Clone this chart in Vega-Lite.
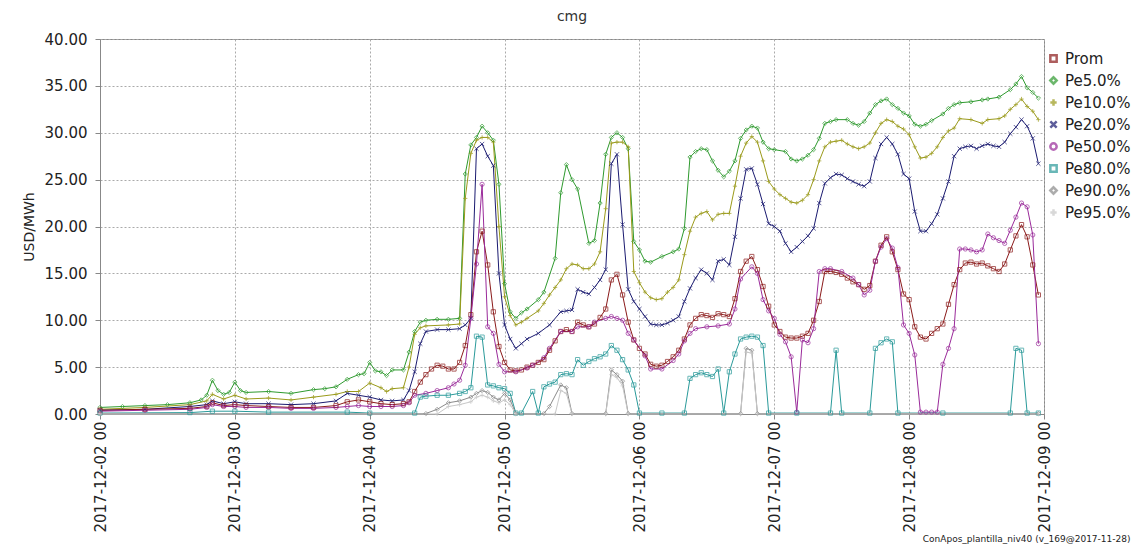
{
  "$schema": "https://vega.github.io/schema/vega-lite/v6.json",
  "width": 1143,
  "height": 548,
  "autosize": {"type": "fit", "contains": "padding"},
  "padding": {"left": 22, "right": 91, "top": 10, "bottom": 4},
  "background": "white",
  "title": {"text": "cmg", "fontSize": 14, "fontWeight": "normal", "color": "#333", "offset": 8},
  "config": {
    "font": "DejaVu Sans",
    "view": {"stroke": "#888"},
    "axis": {"gridDash": [2, 2], "gridColor": "#aaa", "labelColor": "#222", "labelFontSize": 15, "domainColor": "#888", "tickColor": "#888"}
  },
  "datasets": {
    "series": [
      {"s":"Pe5","h":0,"v":0.7},{"s":"Pe5","h":4,"v":0.8},{"s":"Pe5","h":8,"v":0.9},{"s":"Pe5","h":12,"v":1.0},{"s":"Pe5","h":16,"v":1.2},{"s":"Pe5","h":18,"v":1.5},{"s":"Pe5","h":19,"v":2.0},{"s":"Pe5","h":20,"v":3.6},{"s":"Pe5","h":21,"v":2.5},{"s":"Pe5","h":22,"v":2.1},{"s":"Pe5","h":23,"v":2.3},{"s":"Pe5","h":24,"v":3.4},{"s":"Pe5","h":25,"v":2.5},{"s":"Pe5","h":26,"v":2.3},{"s":"Pe5","h":30,"v":2.4},{"s":"Pe5","h":34,"v":2.2},{"s":"Pe5","h":38,"v":2.6},{"s":"Pe5","h":40,"v":2.7},{"s":"Pe5","h":42,"v":2.9},{"s":"Pe5","h":44,"v":3.7},{"s":"Pe5","h":46,"v":4.2},{"s":"Pe5","h":47,"v":4.3},{"s":"Pe5","h":48,"v":5.5},{"s":"Pe5","h":49,"v":4.6},{"s":"Pe5","h":50,"v":4.5},{"s":"Pe5","h":51,"v":4.1},{"s":"Pe5","h":52,"v":4.7},{"s":"Pe5","h":54,"v":4.7},{"s":"Pe5","h":55,"v":6.6},{"s":"Pe5","h":56,"v":8.8},{"s":"Pe5","h":57,"v":9.8},{"s":"Pe5","h":58,"v":10.0},{"s":"Pe5","h":60,"v":10.1},{"s":"Pe5","h":62,"v":10.1},{"s":"Pe5","h":64,"v":10.2},{"s":"Pe5","h":65,"v":25.6},{"s":"Pe5","h":66,"v":28.7},{"s":"Pe5","h":67,"v":29.5},{"s":"Pe5","h":68,"v":30.7},{"s":"Pe5","h":69,"v":30.0},{"s":"Pe5","h":70,"v":29.2},{"s":"Pe5","h":71,"v":24.5},{"s":"Pe5","h":72,"v":13.9},{"s":"Pe5","h":73,"v":10.9},{"s":"Pe5","h":74,"v":10.2},{"s":"Pe5","h":75,"v":10.8},{"s":"Pe5","h":76,"v":11.2},{"s":"Pe5","h":78,"v":12.2},{"s":"Pe5","h":79,"v":13.0},{"s":"Pe5","h":81,"v":16.6},{"s":"Pe5","h":82,"v":23.6},{"s":"Pe5","h":83,"v":26.6},{"s":"Pe5","h":84,"v":25},{"s":"Pe5","h":85,"v":24},{"s":"Pe5","h":87,"v":18.2},{"s":"Pe5","h":88,"v":18.5},{"s":"Pe5","h":89,"v":22.5},{"s":"Pe5","h":90,"v":27.7},{"s":"Pe5","h":91,"v":29.5},{"s":"Pe5","h":92,"v":30},{"s":"Pe5","h":93,"v":29.5},{"s":"Pe5","h":94,"v":28.3},{"s":"Pe5","h":95,"v":18.4},{"s":"Pe5","h":96,"v":17.5},{"s":"Pe5","h":97,"v":16.3},{"s":"Pe5","h":98,"v":16.2},{"s":"Pe5","h":100,"v":16.8},{"s":"Pe5","h":102,"v":17.3},{"s":"Pe5","h":103,"v":17.6},{"s":"Pe5","h":104,"v":19.8},{"s":"Pe5","h":105,"v":27.4},{"s":"Pe5","h":106,"v":28},{"s":"Pe5","h":107,"v":28.3},{"s":"Pe5","h":108,"v":28.2},{"s":"Pe5","h":109,"v":27},{"s":"Pe5","h":110,"v":26},{"s":"Pe5","h":111,"v":25.3},{"s":"Pe5","h":112,"v":25.9},{"s":"Pe5","h":113,"v":27},{"s":"Pe5","h":114,"v":29.4},{"s":"Pe5","h":115,"v":30.3},{"s":"Pe5","h":116,"v":30.7},{"s":"Pe5","h":117,"v":30.5},{"s":"Pe5","h":118,"v":29},{"s":"Pe5","h":119,"v":28.3},{"s":"Pe5","h":120,"v":28.2},{"s":"Pe5","h":122,"v":28},{"s":"Pe5","h":123,"v":27.2},{"s":"Pe5","h":124,"v":27},{"s":"Pe5","h":125,"v":27.2},{"s":"Pe5","h":126,"v":27.6},{"s":"Pe5","h":127,"v":28.2},{"s":"Pe5","h":128,"v":29.4},{"s":"Pe5","h":129,"v":31},{"s":"Pe5","h":130,"v":31.2},{"s":"Pe5","h":131,"v":31.4},{"s":"Pe5","h":133,"v":31.4},{"s":"Pe5","h":134,"v":31},{"s":"Pe5","h":135,"v":30.8},{"s":"Pe5","h":136,"v":31.2},{"s":"Pe5","h":137,"v":32.1},{"s":"Pe5","h":138,"v":33},{"s":"Pe5","h":139,"v":33.4},{"s":"Pe5","h":140,"v":33.6},{"s":"Pe5","h":141,"v":33},{"s":"Pe5","h":142,"v":32.6},{"s":"Pe5","h":143,"v":32.1},{"s":"Pe5","h":144,"v":31.8},{"s":"Pe5","h":145,"v":30.9},{"s":"Pe5","h":146,"v":30.7},{"s":"Pe5","h":147,"v":30.9},{"s":"Pe5","h":148,"v":31.3},{"s":"Pe5","h":150,"v":32},{"s":"Pe5","h":151,"v":32.6},{"s":"Pe5","h":152,"v":33},{"s":"Pe5","h":153,"v":33.2},{"s":"Pe5","h":155,"v":33.3},{"s":"Pe5","h":157,"v":33.5},{"s":"Pe5","h":158,"v":33.6},{"s":"Pe5","h":160,"v":33.8},{"s":"Pe5","h":162,"v":34.6},{"s":"Pe5","h":163,"v":35.2},{"s":"Pe5","h":164,"v":36},{"s":"Pe5","h":165,"v":34.8},{"s":"Pe5","h":166,"v":34.3},{"s":"Pe5","h":167,"v":33.7},

      {"s":"Pe10","h":0,"v":0.5},{"s":"Pe10","h":8,"v":0.7},{"s":"Pe10","h":16,"v":1.0},{"s":"Pe10","h":19,"v":1.4},{"s":"Pe10","h":20,"v":2.1},{"s":"Pe10","h":22,"v":1.6},{"s":"Pe10","h":24,"v":2.0},{"s":"Pe10","h":26,"v":1.6},{"s":"Pe10","h":30,"v":1.7},{"s":"Pe10","h":34,"v":1.5},{"s":"Pe10","h":38,"v":1.8},{"s":"Pe10","h":42,"v":2.1},{"s":"Pe10","h":44,"v":2.4},{"s":"Pe10","h":46,"v":2.4},{"s":"Pe10","h":48,"v":3.3},{"s":"Pe10","h":50,"v":2.8},{"s":"Pe10","h":51,"v":2.4},{"s":"Pe10","h":52,"v":2.7},{"s":"Pe10","h":54,"v":2.8},{"s":"Pe10","h":55,"v":5.0},{"s":"Pe10","h":56,"v":8.5},{"s":"Pe10","h":57,"v":9.2},{"s":"Pe10","h":58,"v":9.4},{"s":"Pe10","h":62,"v":9.5},{"s":"Pe10","h":64,"v":9.6},{"s":"Pe10","h":65,"v":23},{"s":"Pe10","h":66,"v":27.8},{"s":"Pe10","h":67,"v":29.2},{"s":"Pe10","h":68,"v":29.5},{"s":"Pe10","h":69,"v":29.5},{"s":"Pe10","h":70,"v":29},{"s":"Pe10","h":71,"v":20},{"s":"Pe10","h":72,"v":12.5},{"s":"Pe10","h":73,"v":10.5},{"s":"Pe10","h":74,"v":9.5},{"s":"Pe10","h":75,"v":9.8},{"s":"Pe10","h":76,"v":10.2},{"s":"Pe10","h":78,"v":11},{"s":"Pe10","h":79,"v":11.8},{"s":"Pe10","h":80,"v":12.7},{"s":"Pe10","h":81,"v":13.5},{"s":"Pe10","h":82,"v":14.3},{"s":"Pe10","h":83,"v":15.5},{"s":"Pe10","h":84,"v":16},{"s":"Pe10","h":85,"v":15.9},{"s":"Pe10","h":86,"v":15.5},{"s":"Pe10","h":87,"v":15.5},{"s":"Pe10","h":88,"v":16},{"s":"Pe10","h":89,"v":17.3},{"s":"Pe10","h":90,"v":21.9},{"s":"Pe10","h":91,"v":28.9},{"s":"Pe10","h":92,"v":29},{"s":"Pe10","h":93,"v":29},{"s":"Pe10","h":94,"v":28.5},{"s":"Pe10","h":95,"v":15.2},{"s":"Pe10","h":96,"v":14},{"s":"Pe10","h":97,"v":13},{"s":"Pe10","h":98,"v":12.4},{"s":"Pe10","h":99,"v":12.2},{"s":"Pe10","h":100,"v":12.3},{"s":"Pe10","h":101,"v":13},{"s":"Pe10","h":102,"v":13.5},{"s":"Pe10","h":103,"v":14.3},{"s":"Pe10","h":104,"v":17},{"s":"Pe10","h":105,"v":19.5},{"s":"Pe10","h":106,"v":21},{"s":"Pe10","h":107,"v":21.4},{"s":"Pe10","h":108,"v":21.6},{"s":"Pe10","h":109,"v":20.7},{"s":"Pe10","h":110,"v":21.3},{"s":"Pe10","h":111,"v":21.4},{"s":"Pe10","h":112,"v":21.4},{"s":"Pe10","h":113,"v":24.3},{"s":"Pe10","h":114,"v":27.5},{"s":"Pe10","h":115,"v":28.9},{"s":"Pe10","h":116,"v":29.6},{"s":"Pe10","h":117,"v":29},{"s":"Pe10","h":118,"v":27},{"s":"Pe10","h":119,"v":24.8},{"s":"Pe10","h":120,"v":24},{"s":"Pe10","h":121,"v":23.4},{"s":"Pe10","h":122,"v":23},{"s":"Pe10","h":123,"v":22.6},{"s":"Pe10","h":124,"v":22.5},{"s":"Pe10","h":125,"v":22.8},{"s":"Pe10","h":126,"v":23.4},{"s":"Pe10","h":127,"v":25},{"s":"Pe10","h":128,"v":27},{"s":"Pe10","h":129,"v":28.5},{"s":"Pe10","h":130,"v":29},{"s":"Pe10","h":131,"v":29.1},{"s":"Pe10","h":132,"v":29.2},{"s":"Pe10","h":133,"v":28.8},{"s":"Pe10","h":134,"v":28.5},{"s":"Pe10","h":135,"v":28.3},{"s":"Pe10","h":136,"v":28.5},{"s":"Pe10","h":137,"v":28.9},{"s":"Pe10","h":138,"v":30},{"s":"Pe10","h":139,"v":31},{"s":"Pe10","h":140,"v":31.4},{"s":"Pe10","h":141,"v":31.2},{"s":"Pe10","h":142,"v":30.7},{"s":"Pe10","h":143,"v":30.4},{"s":"Pe10","h":144,"v":29.8},{"s":"Pe10","h":145,"v":28.5},{"s":"Pe10","h":146,"v":27.3},{"s":"Pe10","h":147,"v":27.4},{"s":"Pe10","h":148,"v":27.8},{"s":"Pe10","h":149,"v":28.5},{"s":"Pe10","h":150,"v":29.5},{"s":"Pe10","h":151,"v":30.2},{"s":"Pe10","h":152,"v":30.5},{"s":"Pe10","h":153,"v":31.5},{"s":"Pe10","h":155,"v":31.4},{"s":"Pe10","h":157,"v":31},{"s":"Pe10","h":158,"v":31.4},{"s":"Pe10","h":160,"v":31.5},{"s":"Pe10","h":161,"v":31.8},{"s":"Pe10","h":162,"v":32.5},{"s":"Pe10","h":163,"v":33},{"s":"Pe10","h":164,"v":33.6},{"s":"Pe10","h":165,"v":32.8},{"s":"Pe10","h":166,"v":32.3},{"s":"Pe10","h":167,"v":31.4},

      {"s":"Pe20","h":0,"v":0.4},{"s":"Pe20","h":8,"v":0.5},{"s":"Pe20","h":16,"v":0.8},{"s":"Pe20","h":19,"v":1.0},{"s":"Pe20","h":20,"v":1.4},{"s":"Pe20","h":22,"v":1.1},{"s":"Pe20","h":24,"v":1.3},{"s":"Pe20","h":26,"v":1.1},{"s":"Pe20","h":30,"v":1.1},{"s":"Pe20","h":34,"v":1.0},{"s":"Pe20","h":38,"v":1.1},{"s":"Pe20","h":42,"v":1.4},{"s":"Pe20","h":44,"v":2.2},{"s":"Pe20","h":46,"v":2.0},{"s":"Pe20","h":48,"v":1.8},{"s":"Pe20","h":50,"v":1.5},{"s":"Pe20","h":52,"v":1.4},{"s":"Pe20","h":54,"v":1.5},{"s":"Pe20","h":55,"v":2.5},{"s":"Pe20","h":56,"v":4.5},{"s":"Pe20","h":57,"v":7.5},{"s":"Pe20","h":58,"v":8.8},{"s":"Pe20","h":60,"v":9.0},{"s":"Pe20","h":62,"v":9.0},{"s":"Pe20","h":64,"v":9.1},{"s":"Pe20","h":65,"v":9.5},{"s":"Pe20","h":66,"v":10.2},{"s":"Pe20","h":67,"v":28.3},{"s":"Pe20","h":68,"v":28.8},{"s":"Pe20","h":69,"v":27.5},{"s":"Pe20","h":70,"v":26.5},{"s":"Pe20","h":71,"v":15},{"s":"Pe20","h":72,"v":9.5},{"s":"Pe20","h":73,"v":8},{"s":"Pe20","h":74,"v":7},{"s":"Pe20","h":75,"v":7.5},{"s":"Pe20","h":76,"v":8},{"s":"Pe20","h":78,"v":8.6},{"s":"Pe20","h":80,"v":9.5},{"s":"Pe20","h":82,"v":10.9},{"s":"Pe20","h":83,"v":11},{"s":"Pe20","h":84,"v":11.1},{"s":"Pe20","h":85,"v":13.3},{"s":"Pe20","h":86,"v":13},{"s":"Pe20","h":87,"v":12.8},{"s":"Pe20","h":88,"v":13.5},{"s":"Pe20","h":89,"v":14.3},{"s":"Pe20","h":90,"v":15.4},{"s":"Pe20","h":91,"v":26.7},{"s":"Pe20","h":92,"v":27.7},{"s":"Pe20","h":93,"v":20.2},{"s":"Pe20","h":94,"v":13.3},{"s":"Pe20","h":95,"v":12},{"s":"Pe20","h":96,"v":11.2},{"s":"Pe20","h":97,"v":10.4},{"s":"Pe20","h":98,"v":9.6},{"s":"Pe20","h":99,"v":9.5},{"s":"Pe20","h":100,"v":9.5},{"s":"Pe20","h":101,"v":9.7},{"s":"Pe20","h":102,"v":10},{"s":"Pe20","h":103,"v":10.4},{"s":"Pe20","h":104,"v":12},{"s":"Pe20","h":105,"v":13.4},{"s":"Pe20","h":106,"v":14.5},{"s":"Pe20","h":107,"v":15.4},{"s":"Pe20","h":108,"v":15},{"s":"Pe20","h":109,"v":14.3},{"s":"Pe20","h":110,"v":16.3},{"s":"Pe20","h":111,"v":16.5},{"s":"Pe20","h":112,"v":15.9},{"s":"Pe20","h":113,"v":18.9},{"s":"Pe20","h":114,"v":23},{"s":"Pe20","h":115,"v":26.1},{"s":"Pe20","h":116,"v":26.2},{"s":"Pe20","h":117,"v":24.5},{"s":"Pe20","h":118,"v":22.4},{"s":"Pe20","h":119,"v":20.3},{"s":"Pe20","h":120,"v":20},{"s":"Pe20","h":121,"v":19.5},{"s":"Pe20","h":122,"v":18.2},{"s":"Pe20","h":123,"v":17.3},{"s":"Pe20","h":124,"v":17.8},{"s":"Pe20","h":125,"v":18.4},{"s":"Pe20","h":126,"v":19},{"s":"Pe20","h":127,"v":19.8},{"s":"Pe20","h":128,"v":22.5},{"s":"Pe20","h":129,"v":24.6},{"s":"Pe20","h":130,"v":25.2},{"s":"Pe20","h":131,"v":25.6},{"s":"Pe20","h":132,"v":25.5},{"s":"Pe20","h":133,"v":25.1},{"s":"Pe20","h":134,"v":24.8},{"s":"Pe20","h":135,"v":24.5},{"s":"Pe20","h":136,"v":24.3},{"s":"Pe20","h":137,"v":24.8},{"s":"Pe20","h":138,"v":27.3},{"s":"Pe20","h":139,"v":28.8},{"s":"Pe20","h":140,"v":29.5},{"s":"Pe20","h":141,"v":28.8},{"s":"Pe20","h":142,"v":27.7},{"s":"Pe20","h":143,"v":25.6},{"s":"Pe20","h":144,"v":25.1},{"s":"Pe20","h":145,"v":21.6},{"s":"Pe20","h":146,"v":19.5},{"s":"Pe20","h":147,"v":19.5},{"s":"Pe20","h":148,"v":20.3},{"s":"Pe20","h":149,"v":21.3},{"s":"Pe20","h":150,"v":23},{"s":"Pe20","h":151,"v":24.8},{"s":"Pe20","h":152,"v":27.5},{"s":"Pe20","h":153,"v":28.3},{"s":"Pe20","h":154,"v":28.5},{"s":"Pe20","h":155,"v":28.6},{"s":"Pe20","h":156,"v":28.3},{"s":"Pe20","h":157,"v":28.6},{"s":"Pe20","h":158,"v":28.8},{"s":"Pe20","h":159,"v":28.6},{"s":"Pe20","h":160,"v":28.5},{"s":"Pe20","h":161,"v":29},{"s":"Pe20","h":162,"v":29.9},{"s":"Pe20","h":163,"v":30.6},{"s":"Pe20","h":164,"v":31.4},{"s":"Pe20","h":165,"v":30.7},{"s":"Pe20","h":166,"v":29.4},{"s":"Pe20","h":167,"v":26.7},

      {"s":"Prom","h":0,"v":0.4},{"s":"Prom","h":8,"v":0.5},{"s":"Prom","h":16,"v":0.6},{"s":"Prom","h":19,"v":0.8},{"s":"Prom","h":20,"v":1.2},{"s":"Prom","h":22,"v":0.9},{"s":"Prom","h":24,"v":1.0},{"s":"Prom","h":26,"v":0.9},{"s":"Prom","h":30,"v":0.8},{"s":"Prom","h":34,"v":0.7},{"s":"Prom","h":38,"v":0.7},{"s":"Prom","h":42,"v":0.9},{"s":"Prom","h":44,"v":1.3},{"s":"Prom","h":46,"v":1.5},{"s":"Prom","h":48,"v":1.3},{"s":"Prom","h":50,"v":1.1},{"s":"Prom","h":52,"v":1.0},{"s":"Prom","h":54,"v":1.1},{"s":"Prom","h":55,"v":1.3},{"s":"Prom","h":56,"v":2.4},{"s":"Prom","h":57,"v":3.4},{"s":"Prom","h":58,"v":4.2},{"s":"Prom","h":59,"v":4.8},{"s":"Prom","h":60,"v":5.2},{"s":"Prom","h":61,"v":5.1},{"s":"Prom","h":62,"v":4.8},{"s":"Prom","h":63,"v":4.8},{"s":"Prom","h":64,"v":5.5},{"s":"Prom","h":65,"v":7.3},{"s":"Prom","h":66,"v":10.6},{"s":"Prom","h":67,"v":17.3},{"s":"Prom","h":68,"v":19.5},{"s":"Prom","h":69,"v":15.9},{"s":"Prom","h":70,"v":10.9},{"s":"Prom","h":71,"v":7.2},{"s":"Prom","h":72,"v":5.5},{"s":"Prom","h":73,"v":4.7},{"s":"Prom","h":74,"v":4.6},{"s":"Prom","h":75,"v":4.7},{"s":"Prom","h":76,"v":5.0},{"s":"Prom","h":77,"v":5.2},{"s":"Prom","h":78,"v":5.5},{"s":"Prom","h":79,"v":5.8},{"s":"Prom","h":80,"v":6.8},{"s":"Prom","h":81,"v":7.8},{"s":"Prom","h":82,"v":8.8},{"s":"Prom","h":83,"v":9},{"s":"Prom","h":84,"v":8.8},{"s":"Prom","h":85,"v":9.8},{"s":"Prom","h":86,"v":9.5},{"s":"Prom","h":87,"v":9.3},{"s":"Prom","h":88,"v":9.6},{"s":"Prom","h":89,"v":10.3},{"s":"Prom","h":90,"v":11.2},{"s":"Prom","h":91,"v":14.3},{"s":"Prom","h":92,"v":14.9},{"s":"Prom","h":93,"v":12.7},{"s":"Prom","h":94,"v":9.8},{"s":"Prom","h":95,"v":7.9},{"s":"Prom","h":96,"v":7},{"s":"Prom","h":97,"v":6.4},{"s":"Prom","h":98,"v":5.3},{"s":"Prom","h":99,"v":5.1},{"s":"Prom","h":100,"v":5.2},{"s":"Prom","h":101,"v":5.6},{"s":"Prom","h":102,"v":6.1},{"s":"Prom","h":103,"v":6.8},{"s":"Prom","h":104,"v":8},{"s":"Prom","h":105,"v":9.5},{"s":"Prom","h":106,"v":10.2},{"s":"Prom","h":107,"v":10.6},{"s":"Prom","h":108,"v":10.5},{"s":"Prom","h":109,"v":10.3},{"s":"Prom","h":110,"v":10.7},{"s":"Prom","h":111,"v":10.6},{"s":"Prom","h":112,"v":10.4},{"s":"Prom","h":113,"v":12.3},{"s":"Prom","h":114,"v":15.2},{"s":"Prom","h":115,"v":16.3},{"s":"Prom","h":116,"v":16.8},{"s":"Prom","h":117,"v":15.4},{"s":"Prom","h":118,"v":13.6},{"s":"Prom","h":119,"v":11.5},{"s":"Prom","h":120,"v":9.5},{"s":"Prom","h":121,"v":8.8},{"s":"Prom","h":122,"v":8.2},{"s":"Prom","h":123,"v":8.1},{"s":"Prom","h":124,"v":8.1},{"s":"Prom","h":125,"v":8.3},{"s":"Prom","h":126,"v":8.6},{"s":"Prom","h":127,"v":10},{"s":"Prom","h":128,"v":12},{"s":"Prom","h":129,"v":15.2},{"s":"Prom","h":130,"v":15.2},{"s":"Prom","h":131,"v":15.1},{"s":"Prom","h":132,"v":14.9},{"s":"Prom","h":133,"v":14.5},{"s":"Prom","h":134,"v":14.1},{"s":"Prom","h":135,"v":13.8},{"s":"Prom","h":136,"v":13.3},{"s":"Prom","h":137,"v":13.7},{"s":"Prom","h":138,"v":16.3},{"s":"Prom","h":139,"v":18},{"s":"Prom","h":140,"v":18.9},{"s":"Prom","h":141,"v":17.3},{"s":"Prom","h":142,"v":15.4},{"s":"Prom","h":143,"v":12.8},{"s":"Prom","h":144,"v":12.2},{"s":"Prom","h":145,"v":9.3},{"s":"Prom","h":146,"v":8.2},{"s":"Prom","h":147,"v":8},{"s":"Prom","h":148,"v":8.6},{"s":"Prom","h":149,"v":9.1},{"s":"Prom","h":150,"v":9.6},{"s":"Prom","h":151,"v":11.7},{"s":"Prom","h":152,"v":13.8},{"s":"Prom","h":153,"v":15.4},{"s":"Prom","h":154,"v":16.1},{"s":"Prom","h":155,"v":16.2},{"s":"Prom","h":156,"v":16},{"s":"Prom","h":157,"v":16.1},{"s":"Prom","h":158,"v":15.8},{"s":"Prom","h":159,"v":15.5},{"s":"Prom","h":160,"v":15.2},{"s":"Prom","h":161,"v":16},{"s":"Prom","h":162,"v":17.5},{"s":"Prom","h":163,"v":19},{"s":"Prom","h":164,"v":20.2},{"s":"Prom","h":165,"v":18.9},{"s":"Prom","h":166,"v":15.9},{"s":"Prom","h":167,"v":12.7},

      {"s":"Pe50","h":0,"v":0.3},{"s":"Pe50","h":8,"v":0.4},{"s":"Pe50","h":16,"v":0.5},{"s":"Pe50","h":19,"v":0.7},{"s":"Pe50","h":20,"v":1.0},{"s":"Pe50","h":22,"v":0.8},{"s":"Pe50","h":24,"v":0.8},{"s":"Pe50","h":26,"v":0.7},{"s":"Pe50","h":30,"v":0.7},{"s":"Pe50","h":34,"v":0.6},{"s":"Pe50","h":38,"v":0.6},{"s":"Pe50","h":42,"v":0.7},{"s":"Pe50","h":44,"v":0.8},{"s":"Pe50","h":46,"v":0.9},{"s":"Pe50","h":48,"v":0.8},{"s":"Pe50","h":50,"v":0.8},{"s":"Pe50","h":52,"v":0.8},{"s":"Pe50","h":54,"v":0.9},{"s":"Pe50","h":55,"v":1.2},{"s":"Pe50","h":56,"v":2.0},{"s":"Pe50","h":58,"v":2.2},{"s":"Pe50","h":60,"v":2.5},{"s":"Pe50","h":62,"v":2.8},{"s":"Pe50","h":63,"v":3.2},{"s":"Pe50","h":64,"v":3.6},{"s":"Pe50","h":65,"v":5.2},{"s":"Pe50","h":66,"v":10.2},{"s":"Pe50","h":67,"v":16},{"s":"Pe50","h":68,"v":24.5},{"s":"Pe50","h":69,"v":9.3},{"s":"Pe50","h":70,"v":8.6},{"s":"Pe50","h":71,"v":5.3},{"s":"Pe50","h":72,"v":4.5},{"s":"Pe50","h":74,"v":4.5},{"s":"Pe50","h":76,"v":4.9},{"s":"Pe50","h":77,"v":5.2},{"s":"Pe50","h":79,"v":6},{"s":"Pe50","h":80,"v":7},{"s":"Pe50","h":82,"v":8.8},{"s":"Pe50","h":84,"v":8.8},{"s":"Pe50","h":85,"v":9.3},{"s":"Pe50","h":87,"v":9.3},{"s":"Pe50","h":88,"v":9.8},{"s":"Pe50","h":90,"v":10.2},{"s":"Pe50","h":91,"v":10.4},{"s":"Pe50","h":92,"v":10.2},{"s":"Pe50","h":93,"v":10},{"s":"Pe50","h":94,"v":8.6},{"s":"Pe50","h":95,"v":7.9},{"s":"Pe50","h":97,"v":6.2},{"s":"Pe50","h":98,"v":4.8},{"s":"Pe50","h":100,"v":4.8},{"s":"Pe50","h":102,"v":5.7},{"s":"Pe50","h":103,"v":6.4},{"s":"Pe50","h":104,"v":7.8},{"s":"Pe50","h":105,"v":8.6},{"s":"Pe50","h":106,"v":9.1},{"s":"Pe50","h":108,"v":9.3},{"s":"Pe50","h":110,"v":9.4},{"s":"Pe50","h":112,"v":9.6},{"s":"Pe50","h":113,"v":11.2},{"s":"Pe50","h":114,"v":14.4},{"s":"Pe50","h":116,"v":15.7},{"s":"Pe50","h":117,"v":15},{"s":"Pe50","h":118,"v":12.2},{"s":"Pe50","h":119,"v":11},{"s":"Pe50","h":120,"v":10.2},{"s":"Pe50","h":121,"v":8.5},{"s":"Pe50","h":122,"v":7.7},{"s":"Pe50","h":123,"v":6.1},{"s":"Pe50","h":124,"v":0.2},{"s":"Pe50","h":125,"v":7.9},{"s":"Pe50","h":126,"v":7.6},{"s":"Pe50","h":127,"v":9.1},{"s":"Pe50","h":128,"v":15.2},{"s":"Pe50","h":129,"v":15.5},{"s":"Pe50","h":130,"v":15.5},{"s":"Pe50","h":132,"v":15.2},{"s":"Pe50","h":134,"v":14.5},{"s":"Pe50","h":135,"v":13.8},{"s":"Pe50","h":136,"v":12.7},{"s":"Pe50","h":137,"v":13.2},{"s":"Pe50","h":138,"v":16.3},{"s":"Pe50","h":139,"v":17.8},{"s":"Pe50","h":140,"v":18.7},{"s":"Pe50","h":141,"v":17.7},{"s":"Pe50","h":142,"v":15.6},{"s":"Pe50","h":143,"v":9.5},{"s":"Pe50","h":144,"v":8.6},{"s":"Pe50","h":145,"v":6.3},{"s":"Pe50","h":146,"v":0.2},{"s":"Pe50","h":147,"v":0.2},{"s":"Pe50","h":148,"v":0.2},{"s":"Pe50","h":149,"v":0.2},{"s":"Pe50","h":150,"v":5.3},{"s":"Pe50","h":151,"v":7},{"s":"Pe50","h":152,"v":9.1},{"s":"Pe50","h":153,"v":17.6},{"s":"Pe50","h":154,"v":17.6},{"s":"Pe50","h":155,"v":17.5},{"s":"Pe50","h":156,"v":17.3},{"s":"Pe50","h":157,"v":17.5},{"s":"Pe50","h":158,"v":19.2},{"s":"Pe50","h":159,"v":18.8},{"s":"Pe50","h":160,"v":18.5},{"s":"Pe50","h":161,"v":18.2},{"s":"Pe50","h":162,"v":19.6},{"s":"Pe50","h":163,"v":21},{"s":"Pe50","h":164,"v":22.5},{"s":"Pe50","h":165,"v":22.1},{"s":"Pe50","h":166,"v":19.1},{"s":"Pe50","h":167,"v":7.5},

      {"s":"Pe80","h":0,"v":0.1},{"s":"Pe80","h":16,"v":0.15},{"s":"Pe80","h":20,"v":0.3},{"s":"Pe80","h":24,"v":0.3},{"s":"Pe80","h":30,"v":0.2},{"s":"Pe80","h":44,"v":0.2},{"s":"Pe80","h":48,"v":0.1},{"s":"Pe80","h":56,"v":0.1},{"s":"Pe80","h":57,"v":1.8},{"s":"Pe80","h":58,"v":1.9},{"s":"Pe80","h":60,"v":2.0},{"s":"Pe80","h":62,"v":2.0},{"s":"Pe80","h":64,"v":2.2},{"s":"Pe80","h":65,"v":2.4},{"s":"Pe80","h":66,"v":2.8},{"s":"Pe80","h":67,"v":8.3},{"s":"Pe80","h":68,"v":8.2},{"s":"Pe80","h":69,"v":3.1},{"s":"Pe80","h":70,"v":3},{"s":"Pe80","h":71,"v":2.8},{"s":"Pe80","h":72,"v":2.7},{"s":"Pe80","h":73,"v":2.2},{"s":"Pe80","h":74,"v":0.1},{"s":"Pe80","h":75,"v":0.1},{"s":"Pe80","h":77,"v":2.4},{"s":"Pe80","h":78,"v":0.1},{"s":"Pe80","h":79,"v":2.9},{"s":"Pe80","h":80,"v":3.2},{"s":"Pe80","h":81,"v":3.4},{"s":"Pe80","h":82,"v":4.2},{"s":"Pe80","h":83,"v":4.3},{"s":"Pe80","h":84,"v":4.2},{"s":"Pe80","h":85,"v":5.8},{"s":"Pe80","h":86,"v":5.2},{"s":"Pe80","h":87,"v":5.6},{"s":"Pe80","h":88,"v":5.9},{"s":"Pe80","h":89,"v":6.1},{"s":"Pe80","h":90,"v":6.4},{"s":"Pe80","h":91,"v":7.3},{"s":"Pe80","h":92,"v":6.8},{"s":"Pe80","h":93,"v":5.8},{"s":"Pe80","h":94,"v":4.7},{"s":"Pe80","h":95,"v":3.1},{"s":"Pe80","h":96,"v":0.1},{"s":"Pe80","h":100,"v":0.1},{"s":"Pe80","h":104,"v":0.1},{"s":"Pe80","h":105,"v":3.8},{"s":"Pe80","h":106,"v":4.2},{"s":"Pe80","h":107,"v":4.4},{"s":"Pe80","h":108,"v":4.2},{"s":"Pe80","h":109,"v":4},{"s":"Pe80","h":110,"v":4.8},{"s":"Pe80","h":111,"v":0.1},{"s":"Pe80","h":112,"v":4.5},{"s":"Pe80","h":113,"v":6.4},{"s":"Pe80","h":114,"v":8},{"s":"Pe80","h":115,"v":8.2},{"s":"Pe80","h":116,"v":8.3},{"s":"Pe80","h":117,"v":8.2},{"s":"Pe80","h":118,"v":7.3},{"s":"Pe80","h":119,"v":0.1},{"s":"Pe80","h":124,"v":0.1},{"s":"Pe80","h":130,"v":0.1},{"s":"Pe80","h":131,"v":6.8},{"s":"Pe80","h":132,"v":0.1},{"s":"Pe80","h":137,"v":0.1},{"s":"Pe80","h":138,"v":7},{"s":"Pe80","h":139,"v":7.6},{"s":"Pe80","h":140,"v":8},{"s":"Pe80","h":141,"v":7.7},{"s":"Pe80","h":142,"v":0.1},{"s":"Pe80","h":150,"v":0.1},{"s":"Pe80","h":162,"v":0.1},{"s":"Pe80","h":163,"v":7},{"s":"Pe80","h":164,"v":6.8},{"s":"Pe80","h":165,"v":0.1},{"s":"Pe80","h":167,"v":0.1},

      {"s":"Pe90","h":0,"v":0.05},{"s":"Pe90","h":48,"v":0.05},{"s":"Pe90","h":58,"v":0.05},{"s":"Pe90","h":60,"v":0.5},{"s":"Pe90","h":62,"v":1.2},{"s":"Pe90","h":64,"v":1.4},{"s":"Pe90","h":66,"v":1.8},{"s":"Pe90","h":67,"v":2.2},{"s":"Pe90","h":68,"v":2.5},{"s":"Pe90","h":69,"v":2.3},{"s":"Pe90","h":70,"v":1.8},{"s":"Pe90","h":71,"v":1.5},{"s":"Pe90","h":72,"v":2.2},{"s":"Pe90","h":73,"v":1.5},{"s":"Pe90","h":74,"v":0.05},{"s":"Pe90","h":79,"v":0.05},{"s":"Pe90","h":80,"v":0.8},{"s":"Pe90","h":82,"v":3.1},{"s":"Pe90","h":83,"v":2.8},{"s":"Pe90","h":84,"v":0.05},{"s":"Pe90","h":90,"v":0.05},{"s":"Pe90","h":91,"v":4.7},{"s":"Pe90","h":92,"v":4.2},{"s":"Pe90","h":93,"v":3.5},{"s":"Pe90","h":94,"v":0.05},{"s":"Pe90","h":114,"v":0.05},{"s":"Pe90","h":115,"v":7},{"s":"Pe90","h":116,"v":6.8},{"s":"Pe90","h":117,"v":0.05},{"s":"Pe90","h":167,"v":0.05},

      {"s":"Pe95","h":0,"v":0},{"s":"Pe95","h":60,"v":0},{"s":"Pe95","h":62,"v":0.8},{"s":"Pe95","h":64,"v":1},{"s":"Pe95","h":66,"v":1.3},{"s":"Pe95","h":67,"v":1.8},{"s":"Pe95","h":68,"v":2},{"s":"Pe95","h":69,"v":1.8},{"s":"Pe95","h":70,"v":1.4},{"s":"Pe95","h":71,"v":1.2},{"s":"Pe95","h":72,"v":1.5},{"s":"Pe95","h":73,"v":1},{"s":"Pe95","h":74,"v":0},{"s":"Pe95","h":81,"v":0},{"s":"Pe95","h":82,"v":2.5},{"s":"Pe95","h":83,"v":2.2},{"s":"Pe95","h":84,"v":0},{"s":"Pe95","h":90,"v":0},{"s":"Pe95","h":91,"v":4.2},{"s":"Pe95","h":92,"v":3.9},{"s":"Pe95","h":93,"v":3},{"s":"Pe95","h":94,"v":0},{"s":"Pe95","h":114,"v":0},{"s":"Pe95","h":115,"v":6.6},{"s":"Pe95","h":116,"v":6.5},{"s":"Pe95","h":117,"v":0},{"s":"Pe95","h":167,"v":0}
    ]
  },
  "data": {"name": "series"},
  "encoding": {
    "x": {
      "field": "h",
      "type": "quantitative",
      "scale": {"domain": [0, 168], "nice": false, "zero": false},
      "axis": {
        "values": [0, 24, 48, 72, 96, 120, 144, 168],
        "labelAngle": -90,
        "labelExpr": "'2017-12-0' + (2 + datum.value / 24) + ' 00'",
        "title": "ConApos_plantilla_niv40 (v_169@2017-11-28)",
        "titleAnchor": "end",
        "titleFontSize": 9,
        "titleFontWeight": "normal",
        "titleColor": "#222",
        "titlePadding": 2,
        "titleX": 1030
      }
    },
    "y": {
      "field": "v",
      "type": "quantitative",
      "scale": {"domain": [0, 40], "nice": false},
      "axis": {
        "values": [0, 5, 10, 15, 20, 25, 30, 35, 40],
        "format": ".2f",
        "labelPadding": 8,
        "title": "USD/MWh",
        "titleFontSize": 14,
        "titleFontWeight": "normal",
        "titleColor": "#222",
        "titlePadding": 8
      }
    },
    "color": {
      "field": "s",
      "type": "nominal",
      "scale": {
        "domain": ["Prom", "Pe5", "Pe10", "Pe20", "Pe50", "Pe80", "Pe90", "Pe95"],
        "range": ["#8b1a1a", "#2e9a2e", "#9a9a1a", "#1a1a70", "#9a2a9a", "#2a9a9a", "#8a8a8a", "#c8c8c8"]
      },
      "legend": {
        "title": null,
        "orient": "none",
        "legendX": 946,
        "legendY": 12,
        "labelFontSize": 15,
        "labelColor": "#222",
        "symbolSize": 40,
        "symbolStrokeWidth": 2.5,
        "rowPadding": 5,
        "labelExpr": "datum.label == 'Prom' ? 'Prom' : datum.label + '.0%'",
        "values": ["Prom", "Pe5", "Pe10", "Pe20", "Pe50", "Pe80", "Pe90", "Pe95"]
      }
    }
  },
  "layer": [
    {"mark": {"type": "line", "strokeWidth": 1}},
    {
      "mark": {"type": "point", "filled": false, "size": 18, "strokeWidth": 1},
      "encoding": {
        "shape": {
          "field": "s",
          "type": "nominal",
          "scale": {
            "domain": ["Prom", "Pe5", "Pe10", "Pe20", "Pe50", "Pe80", "Pe90", "Pe95"],
            "range": ["square", "diamond", "M-1,0L1,0M0,-1L0,1", "M-1,-1L1,1M-1,1L1,-1", "circle", "square", "diamond", "M-1,0L1,0M0,-1L0,1"]
          },
          "legend": null
        }
      }
    },
    {
      "data": {"values": [{"t": "SimSEE"}]},
      "mark": {"type": "text", "align": "right", "baseline": "bottom", "dy": -3, "dx": -30, "fontSize": 9},
      "encoding": {
        "x": {"datum": 168},
        "y": {"datum": 40},
        "text": {"field": "t"},
        "color": {"value": "#444"}
      }
    }
  ]
}
